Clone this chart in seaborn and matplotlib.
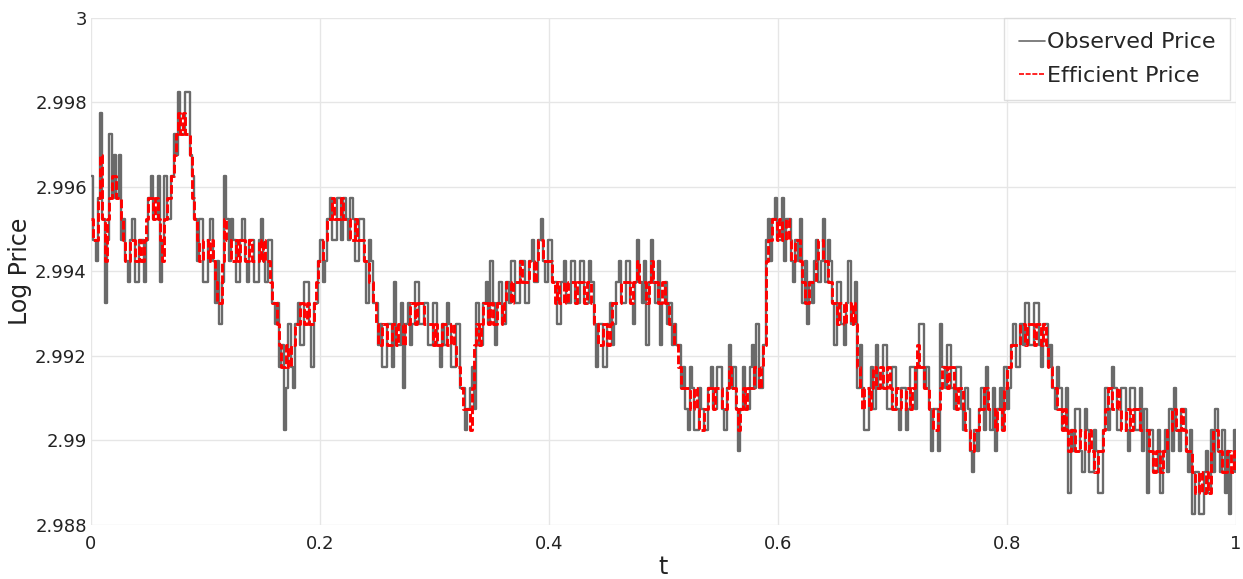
import matplotlib
matplotlib.use("Agg")
import matplotlib.pyplot as plt
import numpy as np
import seaborn as sns

# price grid: level k means BASE + k * TICK
BASE = 2.98825
TICK = 0.0005

# efficient price, tick levels, first half of each time step
efficient_ticks = [
    14, 13, 17, 12, 15, 16, 15, 13, 12, 13,
    12, 12, 14, 15, 15, 13, 14, 15, 17, 19,
    19, 18, 15, 13, 12, 13, 13, 11, 10, 14,
    13, 12, 12, 13, 12, 12, 12, 12, 12, 11,
    10, 8, 7, 7, 8, 9, 10, 10, 9, 11,
    12, 13, 14, 14, 14, 14, 14, 13, 13, 13,
    12, 11, 9, 8, 9, 8, 9, 9, 8, 9,
    10, 10, 10, 9, 9, 9, 8, 9, 8, 8,
    7, 5, 5, 6, 9, 9, 10, 10, 9, 10,
    10, 11, 11, 11, 11, 11, 12, 12, 13, 12,
    12, 10, 10, 11, 11, 11, 11, 11, 11, 10,
    9, 8, 9, 9, 10, 10, 11, 11, 11, 12,
    11, 10, 12, 11, 10, 10, 9, 8, 7, 6,
    6, 5, 5, 4, 5, 6, 6, 6, 5, 7,
    6, 4, 6, 6, 6, 7, 7, 12, 13, 14,
    14, 13, 13, 12, 13, 11, 10, 11, 12, 13,
    12, 11, 10, 10, 9, 10, 10, 7, 5, 6,
    6, 6, 7, 6, 6, 5, 6, 5, 6, 6,
    8, 7, 6, 5, 4, 6, 7, 7, 6, 6,
    5, 4, 3, 4, 5, 6, 5, 4, 5, 6,
    7, 8, 8, 9, 9, 9, 9, 8, 8, 7,
    6, 5, 5, 3, 4, 3, 4, 3, 3, 2,
    3, 5, 6, 5, 5, 4, 5, 5, 5, 4,
    4, 3, 3, 2, 3, 4, 5, 4, 4, 3,
    2, 1, 1, 2, 3, 4, 3, 2, 3, 3,
]

# efficient price, second half of each time step
efficient_half = [
    13, 15, 14, 14, 16, 15, 14, 12, 13, 12,
    13, 13, 15, 14, 14, 12, 15, 16, 18, 18,
    18, 17, 14, 12, 13, 12, 12, 10, 12, 13,
    12, 13, 13, 12, 13, 12, 13, 13, 12, 10,
    9, 7, 8, 8, 9, 10, 9, 9, 10, 12,
    13, 14, 15, 14, 15, 14, 13, 14, 13, 12,
    11, 10, 8, 9, 8, 9, 8, 9, 9, 10,
    9, 10, 9, 9, 8, 8, 9, 8, 9, 7,
    6, 5, 4, 8, 8, 10, 9, 9, 10, 9,
    11, 10, 11, 12, 11, 12, 11, 13, 12, 12,
    11, 11, 10, 10, 11, 10, 11, 10, 11, 9,
    8, 9, 8, 10, 10, 11, 11, 10, 11, 11,
    11, 11, 11, 10, 11, 10, 9, 8, 6, 6,
    5, 6, 4, 5, 6, 5, 6, 5, 6, 6,
    5, 5, 5, 6, 7, 6, 8, 13, 14, 13,
    13, 14, 12, 13, 12, 10, 11, 11, 13, 12,
    11, 10, 9, 10, 10, 9, 9, 6, 6, 5,
    7, 6, 6, 7, 5, 6, 5, 6, 5, 7,
    7, 6, 5, 4, 5, 7, 6, 7, 5, 6,
    4, 3, 4, 5, 6, 5, 5, 5, 4, 7,
    8, 8, 9, 8, 9, 8, 9, 9, 7, 6,
    5, 4, 4, 4, 3, 4, 3, 4, 2, 3,
    4, 6, 5, 6, 4, 5, 4, 5, 4, 4,
    3, 2, 3, 3, 4, 5, 4, 5, 3, 3,
    1, 2, 1, 1, 4, 3, 2, 3, 2, 3,
]

# observed price, tick levels, first half of each time step
observed_ticks = [
    16, 12, 19, 10, 18, 17, 17, 14, 11, 14,
    11, 13, 13, 16, 14, 11, 16, 14, 18, 20,
    18, 20, 16, 12, 14, 11, 14, 10, 9, 16,
    12, 13, 11, 14, 11, 13, 11, 14, 11, 13,
    9, 7, 4, 9, 6, 10, 8, 11, 7, 10,
    13, 12, 15, 13, 15, 15, 13, 14, 12, 14,
    10, 12, 10, 9, 7, 9, 11, 8, 6, 10,
    9, 11, 9, 10, 8, 10, 7, 8, 9, 7,
    9, 6, 5, 7, 10, 8, 11, 12, 8, 11,
    9, 10, 12, 10, 12, 10, 13, 11, 14, 11,
    13, 11, 9, 12, 10, 12, 10, 12, 10, 11,
    7, 9, 7, 10, 9, 12, 10, 12, 9, 13,
    10, 8, 13, 10, 8, 11, 10, 9, 8, 7,
    4, 6, 4, 5, 4, 7, 5, 7, 4, 8,
    7, 3, 7, 5, 8, 9, 6, 13, 12, 15,
    13, 12, 14, 11, 12, 10, 9, 10, 13, 12,
    11, 12, 8, 11, 8, 12, 9, 6, 6, 4,
    7, 8, 6, 8, 5, 7, 4, 6, 5, 7,
    7, 9, 7, 3, 5, 9, 6, 8, 5, 7,
    4, 5, 2, 3, 6, 7, 4, 3, 6, 7,
    6, 9, 7, 8, 10, 8, 10, 7, 9, 8,
    5, 6, 4, 1, 3, 5, 2, 4, 2, 3,
    1, 6, 5, 6, 4, 6, 3, 6, 4, 3,
    1, 4, 2, 1, 4, 5, 6, 3, 5, 2,
    0, 2, 0, 3, 4, 5, 2, 1, 0, 4,
]

# observed price, second half of each time step
observed_half = [
    13, 15, 14, 13, 15, 15, 13, 12, 13, 11,
    13, 11, 15, 14, 16, 13, 14, 16, 17, 18,
    20, 17, 14, 14, 11, 13, 12, 12, 11, 14,
    14, 11, 13, 12, 13, 11, 13, 12, 13, 10,
    10, 8, 6, 7, 9, 8, 11, 9, 10, 12,
    11, 14, 13, 15, 13, 14, 15, 12, 14, 12,
    13, 10, 8, 7, 9, 7, 8, 10, 9, 8,
    11, 9, 10, 8, 10, 8, 9, 10, 7, 9,
    6, 4, 6, 5, 8, 10, 9, 10, 10, 9,
    11, 12, 10, 12, 10, 12, 11, 13, 12, 13,
    11, 9, 11, 10, 12, 10, 12, 10, 12, 9,
    9, 7, 9, 8, 11, 10, 12, 10, 11, 11,
    12, 11, 11, 12, 10, 9, 8, 8, 6, 5,
    7, 4, 6, 4, 6, 5, 7, 5, 6, 6,
    5, 5, 5, 7, 6, 6, 8, 14, 14, 13,
    15, 14, 12, 13, 14, 12, 11, 12, 11, 14,
    13, 10, 11, 9, 10, 9, 11, 8, 4, 6,
    5, 6, 8, 5, 7, 5, 6, 4, 7, 5,
    9, 6, 5, 5, 3, 7, 8, 6, 7, 5,
    6, 3, 4, 5, 4, 5, 6, 5, 4, 5,
    8, 7, 9, 10, 8, 10, 8, 9, 7, 6,
    7, 4, 6, 4, 5, 3, 5, 2, 4, 1,
    4, 4, 7, 4, 6, 4, 6, 4, 6, 5,
    4, 2, 4, 3, 2, 3, 4, 5, 3, 4,
    2, 0, 2, 1, 2, 3, 4, 3, 2, 2,
]

x_ticks = [0, 0.2, 0.4, 0.6, 0.8, 1]
x_labels = ["0", "0.2", "0.4", "0.6", "0.8", "1"]
y_ticks = [2.988, 2.99, 2.992, 2.994, 2.996, 2.998, 3.0]
y_labels = ["2.988", "2.99", "2.992", "2.994", "2.996", "2.998", "3"]

# interleave the two halves of every time step
eff_k = np.column_stack((efficient_ticks, efficient_half)).ravel()
obs_k = np.column_stack((observed_ticks, observed_half)).ravel()
t = np.linspace(0, 1, len(eff_k))
efficient = BASE + TICK * eff_k
observed = BASE + TICK * obs_k

sns.set_theme(style="whitegrid")
plt.rcParams["font.family"] = ["DejaVu Sans"]

fig = plt.figure(figsize=(12.43, 5.79), dpi=100)
ax = fig.add_axes([91 / 1243, 1 - 525 / 579, 1145 / 1243, 507 / 579])

sns.lineplot(x=t, y=observed, ax=ax, color="#6a6a6a", linewidth=1.7,
             drawstyle="steps-post", estimator=None, label="Observed Price")
sns.lineplot(x=t, y=efficient, ax=ax, color="#ff0000", linewidth=2.1,
             drawstyle="steps-post", estimator=None, label="Efficient Price")
ax.lines[1].set_linestyle((0, (3, 1)))

ax.set_xlim(0, 1)
ax.set_ylim(2.988, 3.0)
ax.set_xticks(x_ticks)
ax.set_xticklabels(x_labels)
ax.set_yticks(y_ticks)
ax.set_yticklabels(y_labels)
ax.tick_params(axis="both", length=0, labelsize=13, colors="#222222")
ax.tick_params(axis="x", pad=7)
ax.tick_params(axis="y", pad=3)
ax.grid(True, color="#e6e6e6", linewidth=1)
for s in ax.spines.values():
    s.set_visible(False)
ax.set_facecolor("white")

ax.set_xlabel("t", fontsize=17, color="#222222", labelpad=2)
ax.set_ylabel("Log Price", fontsize=17, color="#222222", labelpad=2)

leg = ax.legend(loc="upper right", bbox_to_anchor=(0.9948, 1.0), fontsize=16,
                frameon=True, fancybox=False, handlelength=1.2,
                handletextpad=0.08, borderpad=0.65, labelspacing=0.6,
                borderaxespad=0)
leg.get_frame().set_edgecolor("#d6d6d6")
leg.get_frame().set_linewidth(1)
for h in leg.get_lines():
    h.set_linewidth(1.2)

fig.savefig("out.png", dpi=100)
